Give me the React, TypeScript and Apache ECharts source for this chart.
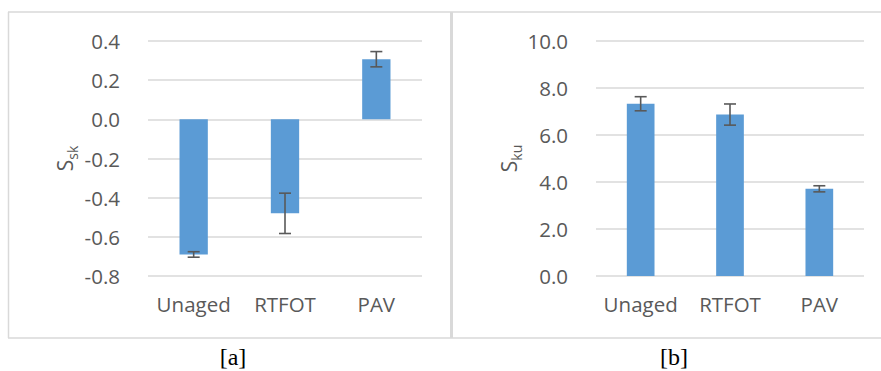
import React, { useEffect, useRef } from "react";
import * as echarts from "echarts";

const categories = ["Unaged", "RTFOT", "PAV"];
const sskValues = [-0.69, -0.48, 0.307];
const sskErrors = [0.014, 0.103, 0.039];
const skuValues = [7.33, 6.87, 3.71];
const skuErrors = [0.3, 0.45, 0.13];
const sskTicks = { min: -0.8, max: 0.4, interval: 0.2 };
const skuTicks = { min: 0, max: 10, interval: 2 };
const captions = ["[a]", "[b]"];

const FONT = "'Open Sans', 'Noto Sans', sans-serif";
const TEXT = "#595959";
const GRID = "#d9d9d9";
const BAR = "#5b9bd5";

function errorSeries(values: number[], errs: number[], idx: number) {
  return {
    type: "custom",
    xAxisIndex: idx,
    yAxisIndex: idx,
    data: values.map((v, i) => [i, v - errs[i], v + errs[i]]),
    renderItem: (params: any, api: any) => {
      const lo = api.coord([api.value(0), api.value(1)]);
      const hi = api.coord([api.value(0), api.value(2)]);
      const half = 6;
      const style = { stroke: "#595959", lineWidth: 1.6 };
      return {
        type: "group",
        children: [
          { type: "line", shape: { x1: lo[0], y1: lo[1], x2: hi[0], y2: hi[1] }, style },
          { type: "line", shape: { x1: lo[0] - half, y1: lo[1], x2: lo[0] + half, y2: lo[1] }, style },
          { type: "line", shape: { x1: hi[0] - half, y1: hi[1], x2: hi[0] + half, y2: hi[1] }, style },
        ],
      };
    },
    z: 5,
  };
}

function yAxis(ticks: any, name: string, sub: string, idx: number) {
  return {
    type: "value",
    gridIndex: idx,
    min: ticks.min,
    max: ticks.max,
    interval: ticks.interval,
    axisLine: { show: false },
    axisTick: { show: false },
    splitLine: { lineStyle: { color: GRID, width: 1.5 } },
    axisLabel: {
      color: TEXT,
      fontFamily: FONT,
      fontSize: 20.5,
      margin: 28,
      formatter: (v: number) => v.toFixed(1),
    },
    name: `{a|${name}}{b|${sub}}`,
    nameLocation: "middle",
    nameRotate: 90,
    nameGap: 73,
    nameTextStyle: {
      rich: {
        a: { fontSize: 21, color: TEXT, fontFamily: FONT, verticalAlign: "bottom" },
        b: { fontSize: 14, color: TEXT, fontFamily: FONT, verticalAlign: "bottom", padding: [0, 0, -4, 0] },
      },
    },
  };
}

function xAxis(idx: number) {
  return {
    type: "category",
    gridIndex: idx,
    data: categories,
    axisLine: { show: false },
    axisTick: { show: false },
    axisLabel: { color: TEXT, fontFamily: FONT, fontSize: 20.5, margin: 17, interval: 0, hideOverlap: false },
  };
}

export default function App() {
  const ref = useRef<HTMLDivElement>(null);
  useEffect(() => {
    if (!ref.current) return;
    const chart = echarts.init(ref.current, null, { renderer: "svg" });
    chart.setOption({
      animation: false,
      backgroundColor: "#ffffff",
      grid: [
        { left: 148, right: 881 - 422, top: 41, bottom: 371 - 276 },
        { left: 596, right: 881 - 864, top: 41, bottom: 371 - 276 },
      ],
      xAxis: [xAxis(0), xAxis(1)],
      yAxis: [yAxis(sskTicks, "S", "sk", 0), yAxis(skuTicks, "S", "ku", 1)],
      series: [
        { type: "bar", xAxisIndex: 0, yAxisIndex: 0, data: sskValues, barWidth: "31%", itemStyle: { color: BAR } },
        { type: "bar", xAxisIndex: 1, yAxisIndex: 1, data: skuValues, barWidth: "31%", itemStyle: { color: BAR } },
        errorSeries(sskValues, sskErrors, 0),
        errorSeries(skuValues, skuErrors, 1),
      ],
      graphic: [
        { type: "line", shape: { x1: 8, y1: 12, x2: 881, y2: 12 }, style: { stroke: GRID, lineWidth: 1.5 } },
        { type: "line", shape: { x1: 8, y1: 338, x2: 881, y2: 338 }, style: { stroke: GRID, lineWidth: 1.5 } },
        { type: "line", shape: { x1: 8.5, y1: 12, x2: 8.5, y2: 338 }, style: { stroke: GRID, lineWidth: 1.5 } },
        { type: "line", shape: { x1: 451.5, y1: 12, x2: 451.5, y2: 338 }, style: { stroke: GRID, lineWidth: 3 } },
        {
          type: "text", x: 233, y: 357,
          style: { text: captions[0], fontFamily: "'Liberation Serif', serif", fontSize: 24, fill: "#000", align: "center", verticalAlign: "middle" },
        },
        {
          type: "text", x: 674, y: 357,
          style: { text: captions[1], fontFamily: "'Liberation Serif', serif", fontSize: 24, fill: "#000", align: "center", verticalAlign: "middle" },
        },
      ],
    });
    return () => chart.dispose();
  }, []);
  return <div ref={ref} style={{ position: "absolute", left: 0, top: 0, width: 881, height: 371 }} />;
}
